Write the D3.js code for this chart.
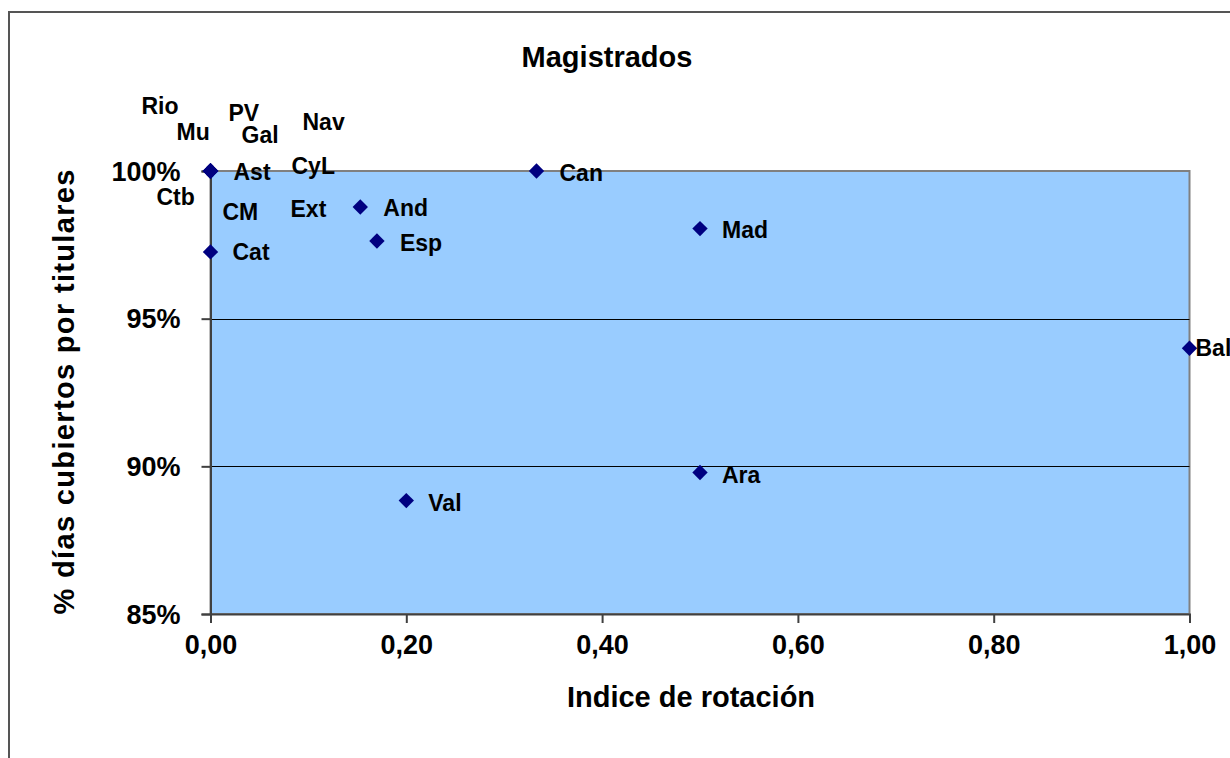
<!DOCTYPE html>
<html>
<head>
<meta charset="utf-8">
<script src="https://cdn.jsdelivr.net/npm/d3@7"></script>
<style>
  html, body { margin: 0; padding: 0; background: #fff; }
  svg { display: block; font-family: "Liberation Sans", Arial, sans-serif; font-weight: bold; }
</style>
</head>
<body>
<svg id="chart" width="1230" height="758"></svg>
<script>
// ---- data ----
const regions = ["Rio","Mu","PV","Gal","Nav","Ast","CyL","Ctb","CM","Ext","Cat","And","Esp","Can","Mad","Bal","Ara","Val"];
const rotation = [0,0,0,0,0,0,0,0,0,0,0,0.153,0.170,0.333,0.50,1.00,0.50,0.20];
const covered  = [1,1,1,1,1,1,1,1,1,1,0.9726,0.9878,0.9763,1,0.9805,0.9400,0.8979,0.8884];
// label offsets from marker (px) — the reference has hand-placed labels
const labelDx = [-69,-34,18,31,92,23,81,-54,12,80,22,23,23,23,22,6,22,22];
const labelDy = [-65,-39,-58,-36,-49,1,-5,26,41,38,0,1,2,2,1,0,2,2];
const xTicks = [0,0.2,0.4,0.6,0.8,1.0];
const yTicks = [0.85,0.90,0.95,1.00];
const title = "Magistrados";
const xTitle = "Indice de rotación";
const yTitle = "% días cubiertos por titulares";

(function () {
const svg = d3.select("#chart");
const pL = 210.5, pR = 1189.5, pT = 171, pB = 614;

// outer frame
svg.append("rect").attr("x", 9).attr("y", 12).attr("width", 1240).attr("height", 800)
  .attr("fill", "#fff").attr("stroke", "#555").attr("stroke-width", 2);

const x = d3.scaleLinear().domain([0, 1]).range([pL, pR]);
const y = d3.scaleLinear().domain([0.85, 1.0]).range([pB, pT]);

// plot area
svg.append("rect").attr("x", pL).attr("y", pT).attr("width", pR - pL).attr("height", pB - pT)
  .attr("fill", "#99CCFF").attr("stroke", "#808080").attr("stroke-width", 2);

// gridlines
svg.append("g").selectAll("line").data(yTicks.filter(t => t > 0.85 && t < 1.0)).join("line")
  .attr("x1", pL).attr("x2", pR)
  .attr("y1", d => Math.round(y(d)) + 0.5).attr("y2", d => Math.round(y(d)) + 0.5)
  .attr("stroke", "#000").attr("stroke-width", 1);

// axes
const fmtX = d => d3.format(".2f")(d).replace(".", ",");
const fmtY = d => d3.format(".0%")(d);
const xAxis = svg.append("g").attr("transform", `translate(0,${pB})`)
  .call(d3.axisBottom(x).tickValues(xTicks).tickFormat(fmtX).tickSize(9).tickPadding(12));
const yAxis = svg.append("g").attr("transform", `translate(${pL},0)`)
  .call(d3.axisLeft(y).tickValues(yTicks).tickFormat(fmtY).tickSize(9).tickPadding(21));
[xAxis, yAxis].forEach(g => {
  g.select(".domain").attr("stroke", "#404040").attr("stroke-width", 2);
  g.selectAll(".tick line").attr("stroke", "#404040").attr("stroke-width", 2);
  g.selectAll(".tick text").attr("fill", "#000").attr("font-size", 27)
    .attr("font-family", "'Liberation Sans', Arial, sans-serif").attr("font-weight", "bold");
});
xAxis.selectAll(".tick text").attr("dy", "0.72em");
yAxis.selectAll(".tick text").attr("dy", "0.34em");

// titles
svg.append("text").attr("x", 607).attr("y", 67).attr("text-anchor", "middle")
  .attr("font-size", 29).text(title);
svg.append("text").attr("x", 691).attr("y", 707).attr("text-anchor", "middle")
  .attr("font-size", 29).text(xTitle);
svg.append("text").attr("transform", "translate(74,392) rotate(-90)").attr("text-anchor", "middle")
  .attr("font-size", 29).attr("textLength", 445).attr("lengthAdjust", "spacing").text(yTitle);

// points
const pts = regions.map((r, i) => ({ r, x: rotation[i], y: covered[i], dx: labelDx[i], dy: labelDy[i] }));
const diamond = d3.symbol().type(d3.symbolSquare).size(118);
svg.append("g").selectAll("path").data(pts).join("path")
  .attr("d", diamond)
  .attr("transform", d => `translate(${x(d.x)},${y(d.y)}) rotate(45)`)
  .attr("fill", "#000080");

// labels
svg.append("g").selectAll("text").data(pts).join("text")
  .attr("x", d => x(d.x) + d.dx).attr("y", d => y(d.y) + d.dy)
  .attr("dy", "0.36em").attr("font-size", 23).attr("fill", "#000")
  .text(d => d.r);
})();
</script>
</body>
</html>
